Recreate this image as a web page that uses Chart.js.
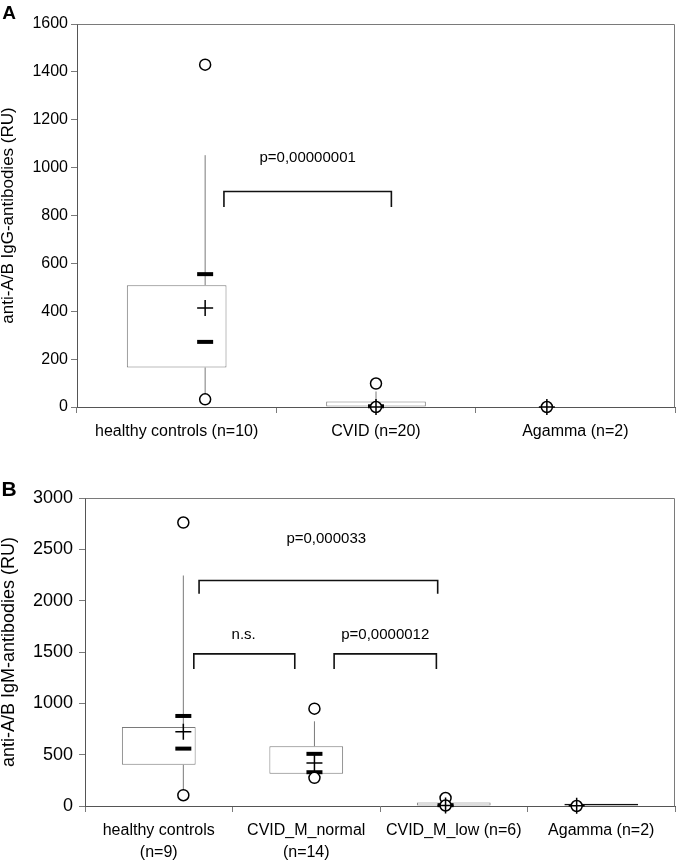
<!DOCTYPE html>
<html>
<head>
<meta charset="utf-8">
<script src="https://cdn.jsdelivr.net/npm/chart.js@4.4.0/dist/chart.umd.min.js"></script>
<style>
  html, body { margin: 0; padding: 0; background: #fff; }
  body { width: 687px; height: 863px; position: relative; overflow: hidden; }
  .panel { position: absolute; left: 0; width: 687px; }
  #panelA { top: 0; height: 445px; }
  #panelB { top: 445px; height: 418px; }
</style>
</head>
<body>
<div class="panel" id="panelA"><canvas id="chartA"></canvas></div>
<div class="panel" id="panelB"><canvas id="chartB"></canvas></div>
<script>
// ---- panel A : IgG ----
const catsA = ['healthy controls (n=10)', 'CVID (n=20)', 'Agamma (n=2)'];
const boxLowA = [165, 0, null];
const boxHighA = [509, 23, null];
const whiskTopA = [1052, 65, null];
const whiskBotA = [32, null, null];
const meanA = [414, 0, 0];
const ciHighA = [555, 3, null];
const ciLowA = [272, null, null];
const circlesA = [[1430, 32], [98, 0], [0]];
// bracket: [from, to, top, foot] in category index / RU
const bracketsA = [[0.11, 1.09, 900, 835]];
const pTextA = ['p=0,00000001'];
const pAtA = [[0.6, 1040]];
const yTicksA = {max: 1600, step: 200};

// ---- panel B : IgM ----
const catsB = [['healthy controls', '(n=9)'], ['CVID_M_normal', '(n=14)'], 'CVID_M_low (n=6)', 'Agamma (n=2)'];
const boxLowB = [401, 313, 0, 0];
const boxHighB = [770, 582, 34, 22];
const whiskTopB = [2245, 825, null, null];
const whiskBotB = [105, 274, null, null];
const meanB = [722, 420, 5, 2];
const ciHighB = [877, 508, 8, null];
const ciLowB = [559, 329, null, null];
const circlesB = [[2761, 105], [948, 274], [78, 5], [0]];
const bracketsB = [[0.12, 1.94, 2197, 2067], [0.08, 0.85, 1482, 1335], [1.15, 1.93, 1482, 1335]];
const pTextB = ['p=0,000033', 'n.s.', 'p=0,0000012'];
const pAtB = [[1.09, 2602], [0.46, 1668], [1.54, 1668]];
const yTicksB = {max: 3000, step: 500};

Chart.defaults.font.family = '"Liberation Sans", Arial, sans-serif';
Chart.defaults.color = '#000';

const GREY = '#7a7a7a';

function pts(vals) {
    var out = [];
    vals.forEach((v, i) => {
        if (v != null) out.push({x: i, y: v});
    });
    return out;
}

// a box flatter than ~3px shows as a dark bar in the original
function isFlat(ctx) {
    const r = ctx.raw;
    if (!r) return false;
    const y = ctx.chart.scales.y;
    return Math.abs(y.getPixelForValue(r[0]) - y.getPixelForValue(r[1])) < 3;
}

// frame around plot area + panel letter + p-value texts
const extras = {
    id: 'extras',
    beforeDatasetsDraw(chart, args, o) {
        const a = chart.chartArea, c = chart.ctx;
        c.save();
        c.strokeStyle = GREY;
        c.lineWidth = 1;
        c.beginPath();
        c.moveTo(Math.round(a.left) + 0.5, Math.round(a.top) + 0.5);
        c.lineTo(Math.round(a.right) - 0.5, Math.round(a.top) + 0.5);
        c.lineTo(Math.round(a.right) - 0.5, Math.round(a.bottom) + 0.5);
        c.stroke();
        c.restore();
    },
    afterDraw(chart, args, o) {
        const c = chart.ctx, xl = chart.scales.xl, y = chart.scales.y;
        c.save();
        c.fillStyle = '#000';
        c.textAlign = 'center';
        c.textBaseline = 'middle';
        c.font = '15px "Liberation Sans", Arial, sans-serif';
        o.texts.forEach((t, i) => {
            c.fillText(t, xl.getPixelForValue(o.at[i][0]), y.getPixelForValue(o.at[i][1]));
        });
        c.font = 'bold ' + o.letterSize + 'px "Liberation Sans", Arial, sans-serif';
        c.fillText(o.letter, o.letterX, o.letterY);
        c.restore();
    }
};

function makeChart(id, d) {
    const n = d.cats.length;

    var whisk = [];
    for (let i = 0; i < n; i++) {
        if (d.wTop[i] != null) whisk.push({x: i, y: d.hi[i]}, {x: i, y: d.wTop[i]}, {x: i, y: null});
        if (d.wBot[i] != null) whisk.push({x: i, y: d.wBot[i]}, {x: i, y: d.lo[i]}, {x: i, y: null});
    }

    var circ = [];
    d.circles.forEach((list, i) => list.forEach(v => circ.push({x: i, y: v})));

    var ci = pts(d.ciHi).concat(pts(d.ciLo)).sort((p, q) => p.x - q.x);

    var datasets = [{
        type: 'bar',
        xAxisID: 'x',
        data: d.cats.map((c, i) => d.lo[i] == null ? null : [d.lo[i], d.hi[i]]),
        backgroundColor: ctx => isFlat(ctx) ? '#111' : '#fff',
        borderColor: ctx => isFlat(ctx) ? '#111' : GREY,
        borderWidth: 1,
        borderSkipped: false,
        grouped: false,
        categoryPercentage: 1,
        barPercentage: 0.5,
        order: 5
    }, {
        type: 'line',
        xAxisID: 'xl',
        data: whisk,
        borderColor: GREY,
        borderWidth: 1,
        pointRadius: 0,
        spanGaps: false,
        order: 6
    }];

    d.brackets.forEach(b => {
        datasets.push({
            type: 'line',
            xAxisID: 'xl',
            data: [{x: b[0], y: b[3]}, {x: b[0], y: b[2]}, {x: b[1], y: b[2]}, {x: b[1], y: b[3]}],
            borderColor: '#111',
            borderWidth: 1.6,
            pointRadius: 0,
            order: 4
        });
    });

    datasets.push({
        type: 'line', xAxisID: 'xl', showLine: false, clip: false,
        data: ci,
        pointStyle: 'line', pointRadius: 8, pointBorderWidth: 4,
        pointBorderColor: '#000', order: 3
    }, {
        type: 'line', xAxisID: 'xl', showLine: false, clip: false,
        data: circ,
        pointStyle: 'circle', pointRadius: 5.5, pointBorderWidth: 1.5,
        pointBorderColor: '#000', pointBackgroundColor: '#fff', order: 2
    }, {
        type: 'line', xAxisID: 'xl', showLine: false, clip: false,
        data: pts(d.mean),
        pointStyle: 'cross', pointRadius: 8, pointBorderWidth: 1.5,
        pointBorderColor: '#000', order: 1
    });

    return new Chart(document.getElementById(id), {
        type: 'bar',
        data: {labels: d.cats, datasets: datasets},
        plugins: [extras],
        options: {
            responsive: true,
            maintainAspectRatio: false,
            devicePixelRatio: 1,
            animation: false,
            events: [],
            layout: {padding: d.pad},
            plugins: {
                legend: {display: false},
                tooltip: {enabled: false},
                extras: {texts: d.texts, at: d.at, letter: d.letter, letterSize: d.letterSize, letterX: 9, letterY: d.letterY}
            },
            scales: {
                x: {
                    type: 'category',
                    offset: true,
                    grid: {offset: true, drawOnChartArea: false, tickLength: 6, color: GREY},
                    border: {color: '#555'},
                    ticks: {font: {size: 16, lineHeight: 1.35}, padding: 8, maxRotation: 0, autoSkip: false},
                    afterFit: s => { s.height = d.xH; }
                },
                xl: {type: 'linear', display: false, min: -0.5, max: n - 0.5},
                y: {
                    min: 0,
                    max: d.yt.max,
                    ticks: {stepSize: d.yt.step, font: {size: d.tickSize}, padding: d.tickPad, callback: v => String(v)},
                    grid: {drawOnChartArea: false, tickLength: 6, color: GREY},
                    border: {color: '#555'},
                    title: {display: true, text: d.yTitle, font: {size: d.titleSize, lineHeight: 1}, padding: 0},
                    afterFit: s => { s.width = d.yW; }
                }
            }
        }
    });
}

makeChart('chartA', {
    cats: catsA, lo: boxLowA, hi: boxHighA, wTop: whiskTopA, wBot: whiskBotA,
    mean: meanA, ciHi: ciHighA, ciLo: ciLowA, circles: circlesA,
    brackets: bracketsA, texts: pTextA, at: pAtA, yt: yTicksA,
    yTitle: 'anti-A/B IgG-antibodies (RU)', titleSize: 17, tickSize: 16, tickPad: 3,
    pad: {top: 24, right: 11, left: 0, bottom: 0}, yW: 77, xH: 38,
    letter: 'A', letterSize: 19, letterY: 14
});

makeChart('chartB', {
    cats: catsB, lo: boxLowB, hi: boxHighB, wTop: whiskTopB, wBot: whiskBotB,
    mean: meanB, ciHi: ciHighB, ciLo: ciLowB, circles: circlesB,
    brackets: bracketsB, texts: pTextB, at: pAtB, yt: yTicksB,
    yTitle: 'anti-A/B IgM-antibodies (RU)', titleSize: 18, tickSize: 18, tickPad: 6,
    pad: {top: 53, right: 2, left: 0, bottom: 0}, yW: 85, xH: 57,
    letter: 'B', letterSize: 21, letterY: 45
});
</script>
</body>
</html>
